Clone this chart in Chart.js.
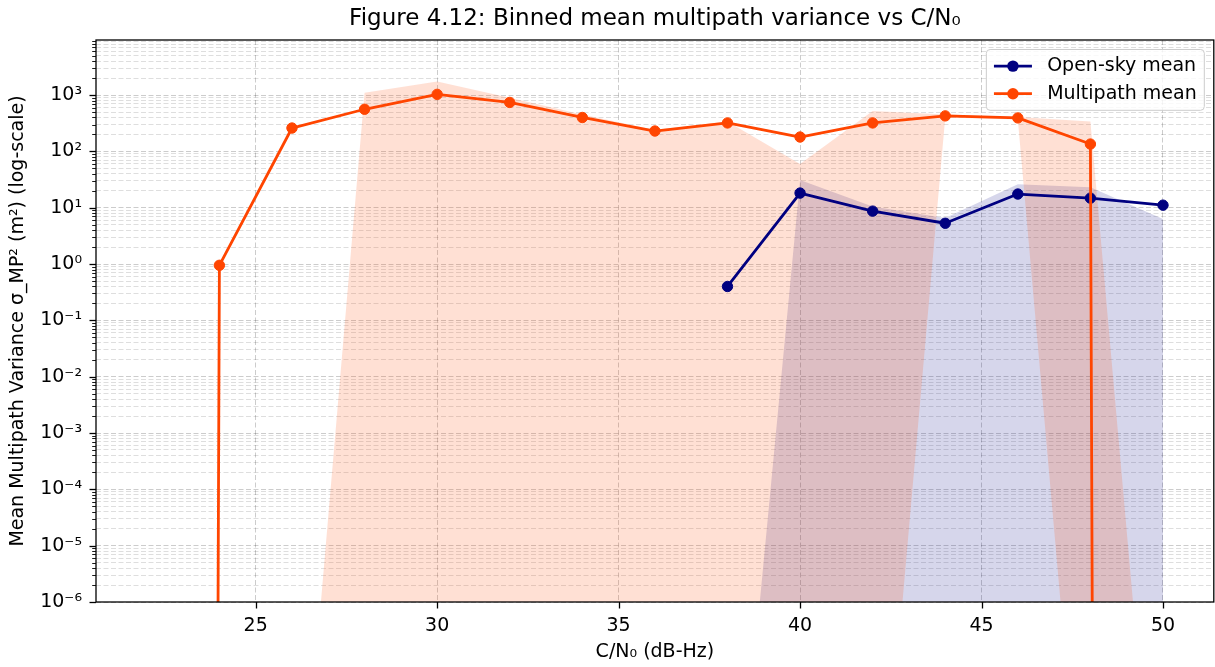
<!DOCTYPE html>
<html>
<head>
<meta charset="utf-8">
<title>Binned mean multipath variance vs C/N₀</title>
<script src="https://cdn.jsdelivr.net/npm/chart.js@4.4.1/dist/chart.umd.min.js"></script>
<style>
  html, body { margin: 0; padding: 0; background: #fff; width: 1215px; height: 667px; overflow: hidden; }
  #wrap { width: 1220px; height: 667px; position: relative; }
</style>
</head>
<body>
<div id="wrap"><canvas id="mpChart"></canvas></div>
<script>
// C/N0 bin centres (dB-Hz)
const cn0Bins = [22, 24, 26, 28, 30, 32, 34, 36, 38, 40, 42, 44, 46, 48, 50];

// Open-sky: binned mean and spread band (null = empty bin)
const openSkyMean = [null, null, null, null, null, null, null, null, 0.40, 18.2, 8.7, 5.3, 17.5, 14.8, 11.1];
const openSkyLow  = [null, null, null, null, null, null, null, null, 1e-12, 1e-12, 1e-12, 1e-12, 1e-12, 1e-12, 1e-12];
const openSkyHigh = [null, null, null, null, null, null, null, null, 1e-12, 31, 10.5, 6.6, 26, 23, 6.3];

// Multipath: binned mean and spread band
const multipathMean = [0, 0.95, 260, 560, 1030, 740, 400, 230, 320, 180, 320, 427, 393, 135, 0];
const multipathLow  = [1e-12, 1e-12, 1e-12, 1e-12, 1e-12, 1e-12, 1e-12, 1e-12, 1e-12, 1e-12, 1e-12, 400, 370, 1e-12, 1e-12];
const multipathHigh = [1e-12, 1e-12, 1e-12, 1100, 1750, 900, 450, 240, 340, 60, 520, 450, 410, 340, 1e-12];

// axes
const xTicks = [25, 30, 35, 40, 45, 50];
const xRange = [20.6, 51.4];
const yDecades = [-6, -5, -4, -3, -2, -1, 0, 1, 2, 3];
const yRange = [1e-6, 9.5e3];

const FONT = "'DejaVu Sans', sans-serif";
const NAVY = '#000080';
const ORANGE = '#ff4500';
const GRID_MAJOR = 'rgba(0,0,0,0.20)';
const GRID_MINOR = 'rgba(0,0,0,0.13)';

// decade + minor ticks (1..9 x 10^n) for the log axis
const yTickValues = [];
yDecades.forEach(e => {
  for (let m = 1; m <= 9; m++) {
    const v = m * Math.pow(10, e);
    if (v <= yRange[1]) yTickValues.push(v);
  }
});

const isDecade = v => Math.abs(Math.log10(v) - Math.round(Math.log10(v))) < 1e-9;
const SUP = { '-': '⁻', '0': '⁰', '1': '¹', '2': '²', '3': '³', '4': '⁴', '5': '⁵', '6': '⁶', '7': '⁷', '8': '⁸', '9': '⁹' };
const decadeLabel = v => isDecade(v)
  ? '10' + String(Math.round(Math.log10(v))).split('').map(c => SUP[c]).join('')
  : '';

// log axis can't show <= 0: push such means far below the axis so the line drops out of view
const onLog = v => (v === null ? null : Math.max(v, Number.MIN_VALUE));
const points = vals => cn0Bins.map((c, i) => ({ x: c, y: onLog(vals[i]) }));

// tick marks and the box around the plot
const axisFrame = {
  id: 'axisFrame',
  afterDatasetsDraw(chart) {
    const { ctx, chartArea: a, scales: { x, y } } = chart;
    ctx.save();
    ctx.strokeStyle = '#000';
    y.ticks.forEach(t => {
      const py = Math.round(y.getPixelForValue(t.value)) + 0.5;
      const major = isDecade(t.value);
      ctx.lineWidth = major ? 1.3 : 0.9;
      ctx.beginPath();
      ctx.moveTo(a.left - (major ? 6.5 : 3.8), py);
      ctx.lineTo(a.left, py);
      ctx.stroke();
    });
    ctx.lineWidth = 1.3;
    x.ticks.forEach(t => {
      const px = Math.round(x.getPixelForValue(t.value)) + 0.5;
      ctx.beginPath();
      ctx.moveTo(px, a.bottom);
      ctx.lineTo(px, a.bottom + 6.5);
      ctx.stroke();
    });
    ctx.strokeRect(a.left, a.top, a.right - a.left, a.bottom - a.top);
    ctx.restore();
  }
};

// framed legend in the upper-right corner of the plot
const boxLegend = {
  id: 'boxLegend',
  afterDraw(chart) {
    const { ctx, chartArea: a } = chart;
    const em = 19;
    const items = chart.data.datasets.filter(d => d.legendEntry);
    ctx.save();
    ctx.font = em + 'px ' + FONT;
    const textW = Math.max(...items.map(d => ctx.measureText(d.label).width));
    const pad = 0.4 * em, handle = 2 * em, gap = 0.8 * em, rowH = 0.95 * em, spacing = 0.5 * em;
    const w = pad + handle + gap + textW + pad;
    const h = 2 * pad + items.length * rowH + (items.length - 1) * spacing;
    const right = a.right - 0.5 * em, top = a.top + 0.5 * em, left = right - w;
    ctx.beginPath();
    ctx.roundRect(left, top, w, h, 0.2 * em);
    ctx.fillStyle = 'rgba(255,255,255,0.8)';
    ctx.fill();
    ctx.strokeStyle = '#cccccc';
    ctx.lineWidth = 1;
    ctx.stroke();
    items.forEach((d, i) => {
      const cy = top + pad + rowH / 2 + i * (rowH + spacing);
      const hx = left + pad;
      ctx.strokeStyle = d.borderColor;
      ctx.lineWidth = d.borderWidth;
      ctx.beginPath();
      ctx.moveTo(hx, cy);
      ctx.lineTo(hx + handle, cy);
      ctx.stroke();
      ctx.fillStyle = d.pointBackgroundColor;
      ctx.beginPath();
      ctx.arc(hx + handle / 2, cy, d.pointRadius + 0.5, 0, Math.PI * 2);
      ctx.fill();
      ctx.fillStyle = '#000';
      ctx.textAlign = 'left';
      ctx.textBaseline = 'middle';
      ctx.fillText(d.label, hx + handle + gap, cy);
    });
    ctx.restore();
  }
};

Chart.defaults.font.family = FONT;
Chart.defaults.color = '#000';

const meanLine = (label, vals, color, order) => ({
  label,
  data: points(vals),
  borderColor: color,
  backgroundColor: color,
  pointBackgroundColor: color,
  pointBorderColor: color,
  borderWidth: 2.8,
  pointRadius: 5.2,
  pointBorderWidth: 1,
  borderJoinStyle: 'round',
  fill: false,
  order,
  legendEntry: true
});

const bandEdge = (vals, fill, bg, order) => ({
  label: '',
  data: points(vals),
  borderWidth: 0,
  pointRadius: 0,
  backgroundColor: bg,
  fill,
  order
});

new Chart(document.getElementById('mpChart'), {
  type: 'line',
  data: {
    datasets: [
      meanLine('Open-sky mean', openSkyMean, NAVY, 2),
      meanLine('Multipath mean', multipathMean, ORANGE, 1),
      bandEdge(openSkyLow, false, 'transparent', 6),
      bandEdge(openSkyHigh, '-1', 'rgba(0,0,128,0.16)', 5),
      bandEdge(multipathLow, false, 'transparent', 4),
      bandEdge(multipathHigh, '-1', 'rgba(255,69,0,0.17)', 3)
    ]
  },
  options: {
    responsive: true,
    maintainAspectRatio: false,
    animation: false,
    events: [],
    layout: { padding: { left: 0, right: 2, top: 0, bottom: 0 } },
    plugins: {
      legend: { display: false },
      tooltip: { enabled: false },
      filler: { drawTime: 'beforeDatasetsDraw' },
      title: {
        display: true,
        fullSize: false,
        text: 'Figure 4.12: Binned mean multipath variance vs C/N₀',
        font: { size: 23, weight: 'normal', family: FONT },
        color: '#000',
        padding: { top: 5, bottom: 7.4 }
      }
    },
    scales: {
      x: {
        type: 'linear',
        min: xRange[0],
        max: xRange[1],
        bounds: 'data',
        afterBuildTicks: s => { s.ticks = xTicks.map(v => ({ value: v })); },
        afterFit: s => { s.height = 65; s.paddingLeft = 0; s.paddingRight = 0; },
        ticks: { autoSkip: false, padding: 13, font: { size: 19 }, color: '#000', callback: v => String(v) },
        grid: { drawTicks: false, lineWidth: 1, color: GRID_MAJOR },
        border: { display: false, dash: [5, 2.5] },
        title: { display: true, text: 'C/N₀ (dB-Hz)', font: { size: 19 }, color: '#000', padding: { top: 0, bottom: 3.6 } }
      },
      y: {
        type: 'logarithmic',
        min: yRange[0],
        max: yRange[1],
        bounds: 'data',
        afterBuildTicks: s => { s.ticks = yTickValues.map(v => ({ value: v })); },
        afterFit: s => { s.width = 96; s.paddingTop = 0; s.paddingBottom = 0; },
        ticks: { autoSkip: false, padding: 14, font: { size: 19 }, color: '#000', callback: v => decadeLabel(v) },
        grid: {
          drawTicks: false,
          lineWidth: 1,
          color: c => (c.tick && isDecade(c.tick.value) ? GRID_MAJOR : GRID_MINOR)
        },
        border: { display: false, dash: [5, 2.5] },
        title: {
          display: true,
          text: 'Mean Multipath Variance σ_MP² (m²) (log-scale)',
          font: { size: 19 },
          color: '#000',
          padding: { top: 6.6, bottom: 0 }
        }
      }
    }
  },
  plugins: [axisFrame, boxLegend]
});
</script>
</body>
</html>
